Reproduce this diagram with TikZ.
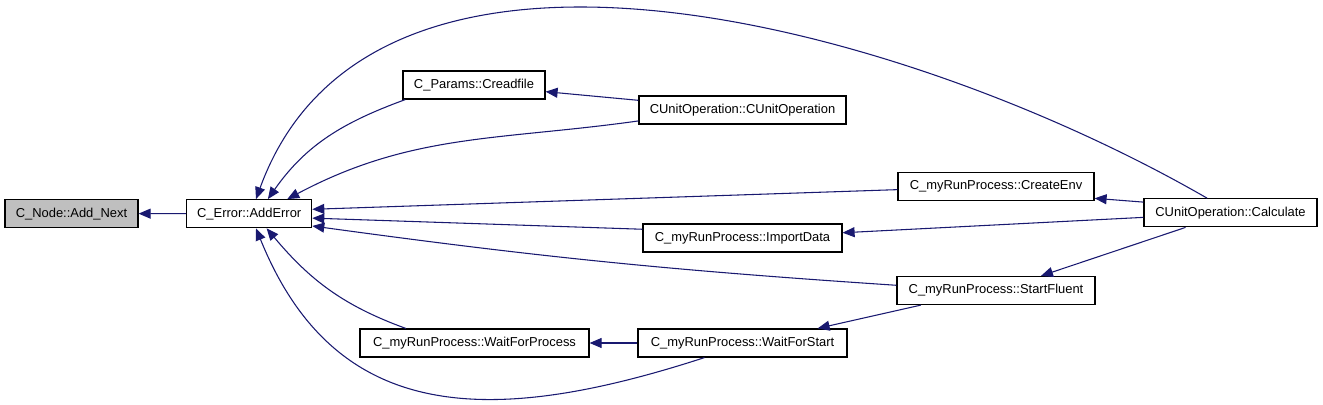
\documentclass[tikz,border=0pt]{standalone}
\usepackage{fontspec}
\setmainfont{Liberation Sans}
\usetikzlibrary{arrows.meta}
\definecolor{edgeblue}{RGB}{25,25,112}
\tikzset{
    x=0.75pt, y=-0.75pt,
    func/.style={
        draw,
        line width=0.9pt,
        minimum height=21pt,
        inner sep=0pt,
        font=\fontsize{9.7}{11}\selectfont
    },
    every edge/.append style={
        draw,
        -{Triangle[length=9pt,width=7.5pt]},
        edgeblue,
        line width=0.8pt
    }
}

\begin{document}
\begin{tikzpicture}
    \useasboundingbox (0,0) rectangle (1323,404);

    \node[func, fill=gray!50, minimum width=99.75pt] (addnext) at (71.5,213.6) {C\_Node::Add\_Next};
    \node[func, minimum width=93.75pt] (adderror) at (249.2,213.7) {C\_Error::AddError};
    \node[func, minimum width=106.5pt] (creadfile) at (474,85) {C\_Params::Creadfile};
    \node[func, minimum width=155.25pt] (cuo) at (742.5,110) {CUnitOperation::CUnitOperation};
    \node[func, minimum width=147pt] (createenv) at (996,186.2) {C\_myRunProcess::CreateEnv};
    \node[func, minimum width=129.75pt] (calc) at (1230.5,212.8) {CUnitOperation::Calculate};
    \node[func, minimum width=149.25pt] (importdata) at (742.5,238) {C\_myRunProcess::ImportData};
    \node[func, minimum width=148.5pt] (startfluent) at (996,290.5) {C\_myRunProcess::StartFluent};
    \node[func, minimum width=171.75pt] (waitproc) at (474.5,343) {C\_myRunProcess::WaitForProcess};
    \node[func, minimum width=156.75pt] (waitstart) at (742.5,343) {C\_myRunProcess::WaitForStart};

    \draw (adderror) edge (addnext);
    \draw (creadfile.192) edge[out=200, in=55] (adderror.38);
    \draw (cuo) edge (creadfile);
    \draw (cuo.186) edge[out=188, in=28] (adderror.21);
    \draw (calc.148) edge[out=150, in=70, out distance=257pt, in distance=258pt] (adderror.65);
    \draw (createenv.182) edge (adderror.4);
    \draw (calc.173) edge (createenv.-7);
    \draw (importdata.175) edge (adderror.-4);
    \draw (calc.183) edge (importdata.3);
    \draw (startfluent.177) edge[bend left=2] (adderror.-11);
    \draw (calc.198) edge (startfluent.18);
    \draw (startfluent.191) edge (waitstart.11);
    \draw (waitstart) edge (waitproc);
    \draw (waitproc.168) edge[out=160, in=310] (adderror.-40);
    \draw (waitstart.201) edge[out=198, in=292, out distance=170pt, in distance=158pt] (adderror.-65);
\end{tikzpicture}
\end{document}
